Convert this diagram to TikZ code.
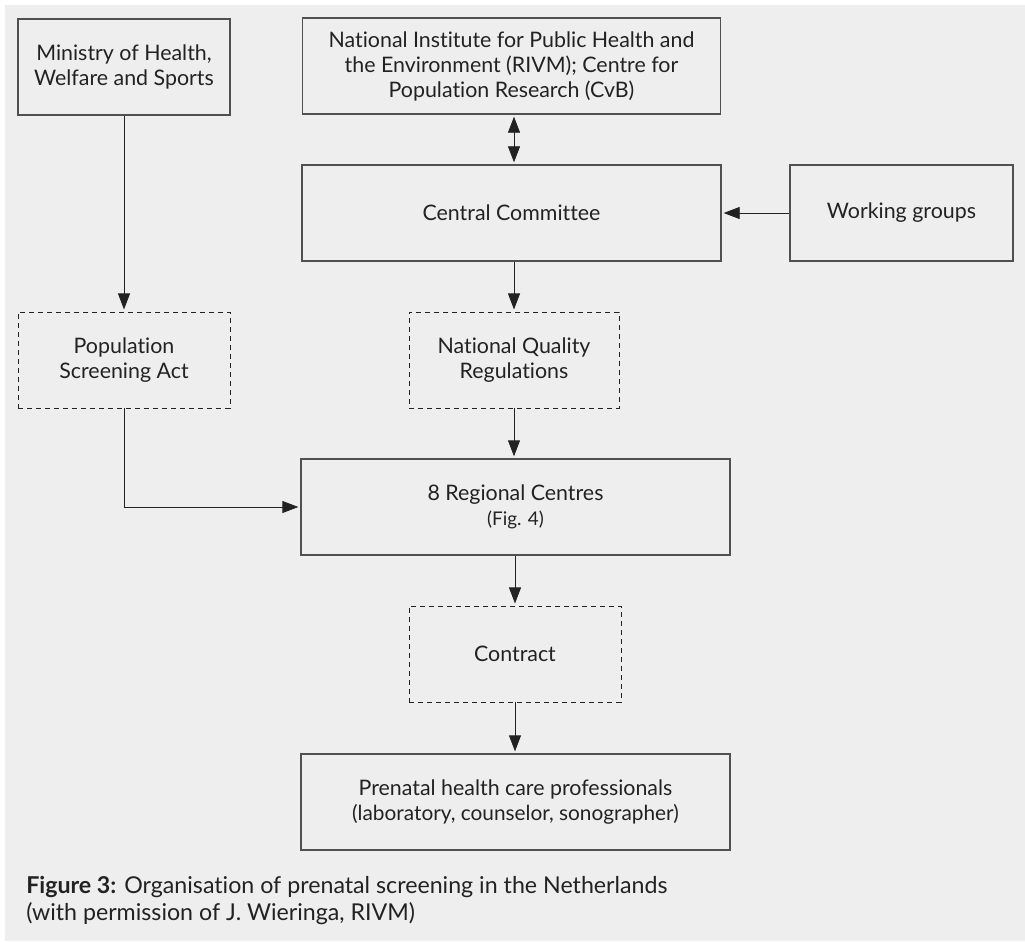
\documentclass[tikz,border=0pt]{standalone}
\usepackage{fontspec}
\setmainfont[Ligatures={NoCommon}]{Lato}
\usetikzlibrary{arrows.meta}
\definecolor{bggray}{HTML}{EEEEEE}
\definecolor{edgegray}{HTML}{505050}
\definecolor{inkgray}{HTML}{222222}
\tikzset{
    box/.style={draw=edgegray, line width=0.8pt, align=center, text=inkgray,
        minimum height=96*0.025cm, inner sep=0pt, font=\fontsize{15.2}{17.8}\selectfont},
    dashbox/.style={box, draw=inkgray, line width=0.6pt, dash pattern=on 3.6pt off 2.8pt},
    arr/.style={-{Triangle[length=0.4cm, width=0.3cm]}, line width=0.6pt, draw=inkgray, shorten >=1.5pt}
}
\begin{document}
\begin{tikzpicture}[x=0.025cm, y=-0.025cm]
            \useasboundingbox (0, 0) rectangle (1025, 941);
            \fill[bggray] (5, 5) rectangle (1025, 941);

            %%top row
            \node[box, minimum width=212*0.025cm] (ministry) at (124, 67){Ministry of Health,\\Welfare and Sports};
            \node[box, minimum width=418*0.025cm] (rivm) at (511.5, 66){National Institute for Public Health and\\the Environment (RIVM); Centre for\\Population Research (CvB)};

            %%committee row
            \node[box, minimum width=419*0.025cm] (central) at (511.5, 213){Central Committee};
            \node[box, minimum width=223*0.025cm] (working) at (901.5, 213){Working groups};

            %%dashed boxes
            \node[dashbox, minimum width=212*0.025cm] (popact) at (124, 360){Population\\Screening Act};
            \node[dashbox, minimum width=210*0.025cm] (quality) at (514, 360){National Quality\\Regulations};

            %%lower column
            \node[box, minimum width=429*0.025cm] (regional) at (515.5, 507){8 Regional Centres\\{\fontsize{13.4}{17.8}\selectfont (Fig. 4)}};
            \node[dashbox, minimum width=212*0.025cm] (contract) at (515, 654){Contract};
            \node[box, minimum width=429*0.025cm] (prenatal) at (515.5, 802){Prenatal health care professionals\\{\fontsize{14.8}{17.8}\selectfont (laboratory, counselor, sonographer)}};

            %%arrows
            \draw[arr] (ministry) -- (popact);
            \draw[arr, {Triangle[length=0.4cm, width=0.3cm]}-{Triangle[length=0.4cm, width=0.3cm]}, shorten <=1.5pt] (rivm.south -| quality) -- (central.north -| quality);
            \draw[arr] (working) -- (central);
            \draw[arr] (central.south -| quality) -- (quality);
            \draw[arr] (popact) |- (regional);
            \draw[arr] (quality) -- (regional.north -| quality);
            \draw[arr] (regional.south -| contract) -- (contract);
            \draw[arr] (contract) -- (prenatal.north -| contract);

            %%caption
            \node[anchor=north west, align=left, inner sep=0pt, text=inkgray, font=\fontsize{16.5}{19}\selectfont] (caption) at (26, 876){\textbf{Figure 3:} Organisation of prenatal screening in the Netherlands\\(with permission of J. Wieringa, RIVM)};
\end{tikzpicture}
\end{document}
